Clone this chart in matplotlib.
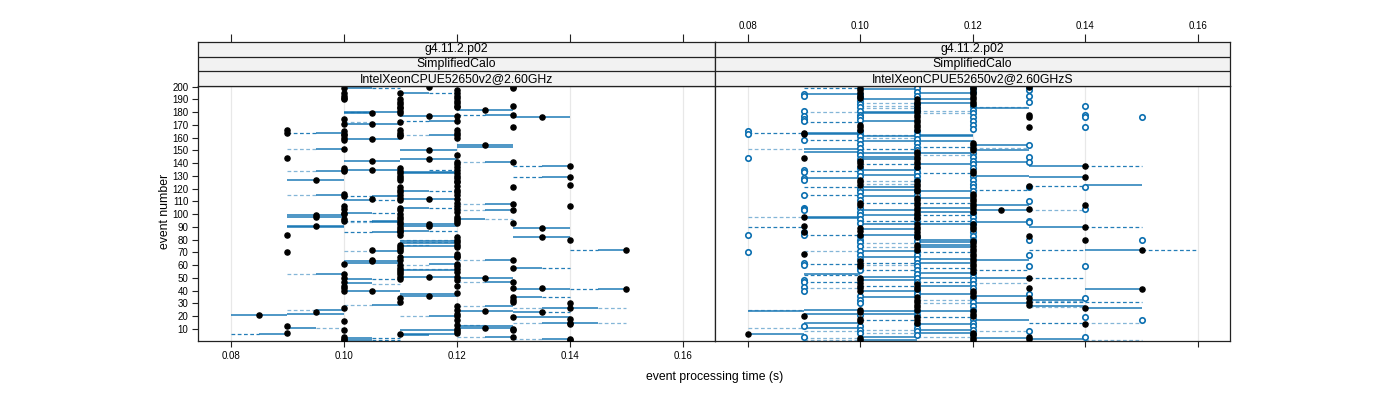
import matplotlib
matplotlib.use("Agg")
import matplotlib.pyplot as plt

plt.rcParams['font.family'] = ['Liberation Sans', 'DejaVu Sans']

# ---------------- data ----------------
strip_top = "g4.11.2.p02"
strip_mid = "SimplifiedCalo"
strip_left = "IntelXeonCPUE52650v2@2.60GHz"
strip_right = "IntelXeonCPUE52650v2@2.60GHzS"

x_ticks = [0.08, 0.10, 0.12, 0.14, 0.16]
y_ticks = list(range(10, 201, 10))

# left panel: black points (event, time)
L_pts = [
    (199, .100), (195, .100), (193, .100), (191, .100), (190, .100), (175, .100), (171, .100),
    (165, .100), (163, .100), (162, .100), (160, .100), (158, .100), (151, .100), (136, .100),
    (135, .100), (134, .100), (116, .100), (114, .100), (106, .100), (104, .100), (101, .100),
    (100, .100), (96, .100), (95, .100), (61, .100), (53, .100), (50, .100), (47, .100),
    (44, .100), (42, .100), (40, .100), (26, .100), (16, .100), (9, .100), (4, .100), (2, .100), (1, .100),
    (166, .090), (164, .090), (144, .090), (84, .090), (70, .090), (12, .090), (7, .090),
    (127, .095), (99, .095), (98, .095), (91, .095), (23, .095), (21, .085),
    (179, .105), (171, .105), (159, .105), (142, .105), (135, .105), (112, .105), (72, .105),
    (64, .105), (63, .105), (40, .105),
    (195, .110), (190, .110), (188, .110), (186, .110), (184, .110), (183, .110), (181, .110),
    (179, .110), (172, .110), (166, .110), (164, .110), (162, .110), (161, .110), (136, .110),
    (134, .110), (132, .110), (130, .110), (128, .110), (127, .110), (121, .110), (119, .110),
    (117, .110), (115, .110), (113, .110), (111, .110), (105, .110), (103, .110), (100, .110),
    (98, .110), (96, .110), (94, .110), (92, .110), (90, .110), (88, .110), (87, .110),
    (86, .110), (84, .110), (76, .110), (74, .110), (73, .110), (71, .110), (66, .110),
    (64, .110), (60, .110), (58, .110), (56, .110), (55, .110), (53, .110), (51, .110),
    (49, .110), (34, .110), (31, .110), (6, .110),
    (200, .115), (177, .115), (150, .115), (143, .115), (112, .115), (92, .115), (91, .115),
    (51, .115), (36, .115),
    (197, .120), (195, .120), (193, .120), (191, .120), (189, .120), (187, .120), (185, .120),
    (184, .120), (177, .120), (173, .120), (166, .120), (164, .120), (162, .120), (160, .120),
    (146, .120), (141, .120), (139, .120), (137, .120), (135, .120), (132, .120), (130, .120),
    (128, .120), (126, .120), (125, .120), (122, .120), (119, .120), (117, .120), (115, .120),
    (112, .120), (109, .120), (106, .120), (104, .120), (102, .120), (98, .120), (96, .120),
    (93, .120), (95, .120), (82, .120), (80, .120), (78, .120), (76, .120), (74, .120),
    (69, .120), (67, .120), (66, .120), (61, .120), (59, .120), (57, .120), (55, .120),
    (51, .120), (48, .120), (44, .120), (38, .120), (28, .120), (25, .120), (22, .120),
    (20, .120), (17, .120), (13, .120), (10, .120), (8, .120), (7, .120),
    (182, .125), (154, .125), (50, .125), (24, .125), (11, .125),
    (200, .130), (199, .130), (185, .130), (178, .130), (168, .130), (141, .130), (121, .130),
    (108, .130), (103, .130), (93, .130), (64, .130), (58, .130), (47, .130), (42, .130),
    (35, .130), (33, .130), (31, .130), (19, .130), (10, .130), (9, .130), (4, .130),
    (176, .135), (89, .135), (82, .135), (42, .135), (23, .135),
    (138, .140), (129, .140), (123, .140), (106, .140), (80, .140), (30, .140), (26, .140),
    (18, .140), (15, .140), (14, .140), (2, .140), (1, .140),
    (72, .150), (41, .150),
]

# left panel: horizontal segments (event, from, to)
L_solid = [
    (199, .100, .105), (195, .110, .115), (180, .100, .110), (179, .100, .105), (171, .100, .110),
    (164, .095, .100), (159, .100, .110), (151, .095, .100), (142, .100, .110), (135, .100, .110),
    (134, .095, .100), (127, .090, .100), (115, .095, .100), (114, .105, .110), (111, .100, .105),
    (99, .090, .100), (98, .090, .100), (101, .100, .105), (95, .105, .110), (91, .090, .100),
    (177, .110, .120), (173, .115, .120), (162, .115, .120), (150, .110, .120), (143, .110, .120),
    (133, .110, .120), (132, .110, .120), (118, .110, .115), (112, .110, .120), (105, .110, .115),
    (92, .110, .120), (182, .120, .130), (178, .125, .130), (176, .130, .140), (153, .120, .130),
    (154, .120, .130), (141, .125, .130), (138, .135, .140), (129, .135, .140), (108, .125, .130),
    (103, .125, .130), (96, .120, .125), (89, .130, .140), (90, .090, .100), (94, .105, .110),
    (86, .105, .110), (71, .105, .110), (63, .100, .110), (62, .100, .110), (53, .095, .100),
    (49, .100, .105), (46, .100, .105), (40, .100, .110), (36, .110, .120), (29, .105, .110),
    (25, .095, .100), (22, .090, .100), (21, .080, .090), (20, .115, .120), (11, .090, .095),
    (6, .085, .090), (5, .110, .115), (3, .100, .105), (1, .100, .105), (91, .110, .120),
    (87, .110, .115), (82, .130, .140), (79, .110, .120), (77, .110, .120), (75, .110, .120),
    (72, .145, .150), (66, .110, .120), (64, .125, .130), (61, .115, .120), (58, .130, .135),
    (56, .110, .120), (51, .110, .120), (50, .120, .130), (47, .125, .130), (41, .130, .140),
    (41, .145, .150), (37, .110, .120), (35, .130, .135), (28, .125, .130), (26, .135, .145),
    (24, .120, .130), (23, .130, .135), (19, .130, .140), (15, .135, .145), (12, .120, .130),
    (11, .120, .130), (4, .125, .130), (2, .135, .140), (9, .110, .120), (6, .110, .120),
]
L_dash = [
    (199, .105, .110), (195, .115, .120), (178, .120, .125), (173, .110, .115), (164, .090, .095),
    (138, .130, .135), (129, .130, .135), (135, .115, .120), (118, .115, .120), (111, .105, .110),
    (105, .115, .120), (101, .105, .110), (114, .100, .105), (95, .100, .105), (87, .115, .120),
    (86, .100, .105), (72, .140, .145), (58, .135, .140), (49, .105, .110), (41, .140, .145),
    (35, .135, .140), (23, .135, .140), (6, .080, .085), (3, .105, .110), (1, .105, .110),
]
L_pale = [
    (180, .100, .105), (172, .100, .105), (162, .110, .115), (151, .090, .095), (134, .090, .095),
    (141, .120, .125), (115, .090, .095), (108, .120, .125), (103, .120, .125), (96, .125, .130),
    (94, .100, .105), (71, .100, .105), (64, .120, .125), (53, .090, .095), (47, .120, .125),
    (29, .100, .105), (28, .120, .125), (26, .130, .135), (25, .090, .095), (26, .145, .150),
    (20, .110, .115), (15, .130, .135), (15, .145, .150), (11, .095, .100), (13, .120, .125),
    (4, .120, .125), (2, .130, .135), (80, .110, .120), (78, .110, .120), (76, .110, .115),
    (57, .110, .120), (60, .110, .115), (45, .105, .110),
]

# right panel: black points
R_pts = [
    (199, .100), (197, .100), (195, .100), (193, .100), (191, .100), (170, .100), (168, .100),
    (166, .100), (142, .100), (140, .100), (138, .100), (127, .100), (125, .100), (123, .100),
    (109, .100), (107, .100), (89, .100), (87, .100), (84, .100), (63, .100), (61, .100),
    (59, .100), (50, .100), (48, .100), (46, .100), (44, .100), (42, .100), (40, .100),
    (25, .100), (23, .100), (18, .100), (16, .100), (3, .100), (1, .100),
    (190, .110), (188, .110), (186, .110), (184, .110), (182, .110), (180, .110), (178, .110),
    (176, .110), (174, .110), (172, .110), (170, .110), (168, .110), (166, .110), (149, .110),
    (147, .110), (145, .110), (143, .110), (141, .110), (139, .110), (137, .110), (126, .110),
    (124, .110), (122, .110), (120, .110), (118, .110), (113, .110), (111, .110), (109, .110),
    (107, .110), (105, .110), (103, .110), (101, .110), (99, .110), (97, .110), (92, .110),
    (90, .110), (88, .110), (86, .110), (84, .110), (82, .110), (76, .110), (74, .110),
    (72, .110), (45, .110), (43, .110), (41, .110), (35, .110), (33, .110), (31, .110),
    (29, .110), (27, .110), (25, .110), (19, .110), (17, .110), (15, .110),
    (200, .120), (198, .120), (196, .120), (194, .120), (192, .120), (190, .120), (188, .120),
    (186, .120), (156, .120), (154, .120), (152, .120), (150, .120), (134, .120), (132, .120),
    (116, .120), (114, .120), (112, .120), (110, .120), (108, .120), (106, .120), (104, .120),
    (102, .120), (92, .120), (90, .120), (88, .120), (79, .120), (77, .120), (75, .120),
    (73, .120), (71, .120), (69, .120), (67, .120), (65, .120), (63, .120), (61, .120),
    (59, .120), (57, .120), (55, .120), (40, .120), (38, .120), (36, .120), (24, .120),
    (22, .120), (20, .120), (7, .120), (5, .120), (3, .120), (1, .120),
    (164, .090), (163, .090), (144, .090), (98, .090), (91, .090), (86, .090), (69, .090),
    (20, .090), (6, .080), (103, .125),
    (200, .130), (178, .130), (176, .130), (168, .130), (122, .130), (104, .130), (83, .130),
    (50, .130), (42, .130), (34, .130), (31, .130), (29, .130), (4, .130), (2, .130),
    (138, .140), (129, .140), (107, .140), (90, .140), (80, .140), (26, .140), (14, .140),
    (72, .150), (41, .150),
]

# right panel: open circles
R_open = [
    (165, .080), (163, .080), (144, .080), (84, .080), (70, .080),
    (194, .090), (193, .090), (181, .090), (177, .090), (175, .090), (173, .090), (158, .090),
    (135, .090), (133, .090), (128, .090), (127, .090), (115, .090), (105, .090), (104, .090),
    (103, .090), (86, .090), (84, .090), (62, .090), (60, .090), (48, .090), (47, .090),
    (43, .090), (40, .090), (12, .090), (4, .090),
    (194, .100), (192, .100), (189, .100), (186, .100), (184, .100), (181, .100), (178, .100),
    (176, .100), (174, .100), (165, .100), (163, .100), (161, .100), (158, .100), (155, .100),
    (152, .100), (149, .100), (146, .100), (143, .100), (136, .100), (133, .100), (130, .100),
    (120, .100), (117, .100), (114, .100), (111, .100), (105, .100), (102, .100), (99, .100),
    (96, .100), (93, .100), (83, .100), (80, .100), (78, .100), (75, .100), (71, .100),
    (68, .100), (65, .100), (58, .100), (56, .100), (36, .100), (33, .100), (30, .100),
    (21, .100), (12, .100), (9, .100), (7, .100),
    (199, .110), (196, .110), (193, .110), (186, .110), (183, .110), (181, .110), (165, .110),
    (162, .110), (159, .110), (156, .110), (153, .110), (150, .110), (136, .110), (133, .110),
    (130, .110), (127, .110), (118, .110), (115, .110), (97, .110), (94, .110), (82, .110),
    (79, .110), (71, .110), (68, .110), (65, .110), (62, .110), (59, .110), (56, .110),
    (53, .110), (50, .110), (47, .110), (40, .110), (37, .110), (24, .110), (21, .110),
    (14, .110), (11, .110), (8, .110), (5, .110),
    (199, .120), (196, .120), (185, .120), (182, .120), (179, .120), (176, .120), (173, .120),
    (170, .120), (167, .120), (148, .120), (145, .120), (142, .120), (139, .120), (136, .120),
    (130, .120), (127, .120), (124, .120), (121, .120), (118, .120), (101, .120), (98, .120),
    (95, .120), (92, .120), (86, .120), (83, .120), (80, .120), (54, .120), (51, .120),
    (48, .120), (45, .120), (42, .120), (34, .120), (31, .120), (28, .120), (25, .120),
    (18, .120), (15, .120), (12, .120), (9, .120), (6, .120),
    (199, .130), (197, .130), (193, .130), (188, .130), (154, .130), (145, .130), (141, .130),
    (121, .130), (110, .130), (95, .130), (94, .130), (80, .130), (68, .130), (59, .130),
    (37, .130), (8, .130),
    (185, .140), (178, .140), (176, .140), (168, .140), (121, .140), (104, .140), (59, .140),
    (34, .140), (19, .140), (4, .140),
    (176, .150), (80, .150), (17, .150),
]

R_solid = [
    (198, .100, .110), (190, .100, .110), (180, .100, .110), (179, .100, .110), (173, .100, .110),
    (161, .100, .110), (157, .100, .110), (148, .100, .110), (145, .100, .110), (143, .100, .110),
    (135, .100, .110), (131, .100, .110), (121, .100, .110), (119, .100, .110), (114, .100, .110),
    (103, .100, .110), (99, .100, .110), (92, .100, .110), (88, .100, .110), (84, .100, .110),
    (71, .100, .110), (66, .100, .110), (51, .100, .110), (48, .100, .110), (40, .100, .110),
    (35, .100, .110), (24, .100, .110), (22, .100, .110), (4, .100, .110), (1, .100, .110),
    (195, .110, .120), (190, .110, .120), (187, .110, .120), (162, .110, .120), (161, .110, .120),
    (157, .110, .120), (148, .110, .120), (139, .110, .120), (118, .110, .120), (113, .110, .120),
    (105, .110, .120), (102, .110, .120), (92, .110, .120), (80, .110, .120), (78, .110, .120),
    (76, .110, .120), (74, .110, .120), (65, .110, .120), (62, .110, .120), (54, .110, .120),
    (50, .110, .120), (44, .110, .120), (37, .110, .120), (24, .110, .120), (14, .110, .120),
    (9, .110, .120), (7, .110, .120),
    (194, .090, .100), (164, .090, .100), (163, .090, .100), (151, .090, .100), (149, .090, .100),
    (128, .090, .100), (98, .090, .100), (97, .090, .100), (53, .090, .100), (25, .090, .100),
    (22, .090, .100), (15, .090, .100), (11, .090, .100),
    (24, .080, .090), (6, .080, .090),
    (183, .120, .130), (154, .120, .130), (150, .120, .130), (141, .120, .130), (130, .120, .130),
    (107, .120, .130), (103, .120, .130), (94, .120, .130), (64, .120, .130), (50, .120, .130),
    (36, .120, .130), (30, .120, .130), (17, .120, .130), (3, .120, .130),
    (138, .130, .140), (129, .130, .140), (90, .130, .140), (33, .130, .140), (28, .130, .140),
    (2, .130, .140),
    (123, .140, .150), (72, .140, .150), (41, .140, .150), (26, .140, .150),
]
R_dash = [
    (151, .100, .110), (139, .100, .110), (109, .100, .110), (95, .100, .110), (62, .100, .110),
    (56, .100, .110), (44, .100, .110), (17, .100, .110),
    (153, .110, .120), (132, .110, .120), (109, .110, .120), (99, .110, .120), (95, .110, .120),
    (70, .110, .120), (58, .110, .120), (47, .110, .120), (19, .110, .120),
    (199, .090, .100), (172, .090, .100), (158, .090, .100), (134, .090, .100), (121, .090, .100),
    (115, .090, .100), (84, .090, .100), (61, .090, .100), (52, .090, .100), (47, .090, .100),
    (164, .080, .090), (90, .080, .090),
    (119, .120, .130), (56, .120, .130),
    (122, .130, .140), (72, .130, .140), (50, .130, .140), (31, .130, .140), (15, .130, .140),
    (138, .140, .150), (90, .140, .150), (31, .140, .150),
    (72, .150, .160),
]
R_pale = [
    (187, .100, .110), (185, .100, .110), (183, .100, .110), (162, .100, .110), (160, .100, .110),
    (126, .100, .110), (124, .100, .110), (77, .100, .110), (74, .100, .110), (60, .100, .110),
    (9, .100, .110), (7, .100, .110),
    (181, .110, .120), (179, .110, .120), (146, .110, .120), (33, .110, .120), (30, .110, .120),
    (4, .110, .120),
    (180, .090, .100), (71, .090, .100), (42, .090, .100), (8, .090, .100), (3, .090, .100),
    (1, .090, .100),
    (151, .080, .090), (98, .080, .090), (25, .080, .090), (11, .080, .090),
    (184, .120, .130), (152, .120, .130), (46, .120, .130), (8, .120, .130),
    (103, .130, .140), (32, .130, .140), (27, .130, .140),
    (15, .140, .150), (1, .140, .150),
]

# ---------------- layout ----------------
W, H = 1400, 400
BLUE = '#0b6fb0'
XLIM = (0.07416, 0.1657)
YLIM = (0.5, 200.5)


def box(x0, y0, x1, y1):
    return [x0 / W, 1 - y1 / H, (x1 - x0) / W, (y1 - y0) / H]


def draw_segments(ax, segs, **kw):
    if segs:
        ev, a, b = zip(*segs)
        ax.hlines(ev, a, b, **kw)


def draw_panel(ax, solid, dash, pale, pts, opens=None):
    ax.set_xlim(*XLIM)
    ax.set_ylim(*YLIM)
    for t in x_ticks:
        ax.axvline(t, color='#e8e8e8', lw=0.9, zorder=0)
    draw_segments(ax, pale, colors=BLUE, linewidths=0.9, alpha=0.5,
                  linestyles=(0, (3, 2)), zorder=1)
    draw_segments(ax, dash, colors=BLUE, linewidths=0.9, alpha=0.9,
                  linestyles=(0, (3, 2)), zorder=1)
    draw_segments(ax, solid, colors=BLUE, linewidths=1.2, alpha=0.85, zorder=2)
    if opens:
        ev, t = zip(*opens)
        ax.plot(t, ev, 'o', ls='none', ms=3.9, mfc='white', mec=BLUE, mew=1.2, zorder=3)
    ev, t = zip(*pts)
    ax.plot(t, ev, 'o', ls='none', ms=3.7, color='black', zorder=4)
    for s in ax.spines.values():
        s.set_color('#222222')
        s.set_linewidth(0.9)
    ax.set_xticks(x_ticks)
    ax.set_yticks(y_ticks)
    ax.tick_params(axis='both', labelsize=7, length=4, width=0.8, color='#222222', pad=3)


def draw_strip(ax, label, top_labels):
    ax.set_xlim(*XLIM)
    ax.set_ylim(0, 3)
    ax.set_facecolor('#f2f2f2')
    for y in (1, 2):
        ax.axhline(y, color='#222222', lw=0.9)
    ax.text(0.5, 2.5 / 3, strip_top, transform=ax.transAxes, ha='center', va='center', fontsize=8.8)
    ax.text(0.5, 1.5 / 3, strip_mid, transform=ax.transAxes, ha='center', va='center', fontsize=8.8)
    ax.text(0.5, 0.5 / 3, label, transform=ax.transAxes, ha='center', va='center', fontsize=8.8)
    for s in ax.spines.values():
        s.set_color('#222222')
        s.set_linewidth(0.9)
    ax.set_yticks([])
    ax.set_xticks(x_ticks)
    ax.xaxis.set_ticks_position('top')
    ax.tick_params(axis='x', labelsize=7, length=6, width=0.8, color='#222222',
                   labeltop=top_labels, labelbottom=False, pad=2)


fig = plt.figure(figsize=(14, 4), dpi=100)

axL = fig.add_axes(box(198, 86, 715, 341))
axR = fig.add_axes(box(715, 86, 1230, 341))
sL = fig.add_axes(box(198, 42, 715, 86))
sR = fig.add_axes(box(715, 42, 1230, 86))

draw_panel(axL, L_solid, L_dash, L_pale, L_pts)
draw_panel(axR, R_solid, R_dash, R_pale, R_pts, R_open)

axR.tick_params(axis='y', left=False, labelleft=False)
axR.tick_params(axis='x', labelbottom=False)

draw_strip(sL, strip_left, False)
draw_strip(sR, strip_right, True)

fig.text(715 / W, 1 - 377 / H, "event processing time (s)", ha='center', va='center', fontsize=8.8)
fig.text(165 / W, 1 - 211 / H, "event number", ha='center', va='center', rotation=90, fontsize=8.8)

fig.savefig("out.png", dpi=100)
